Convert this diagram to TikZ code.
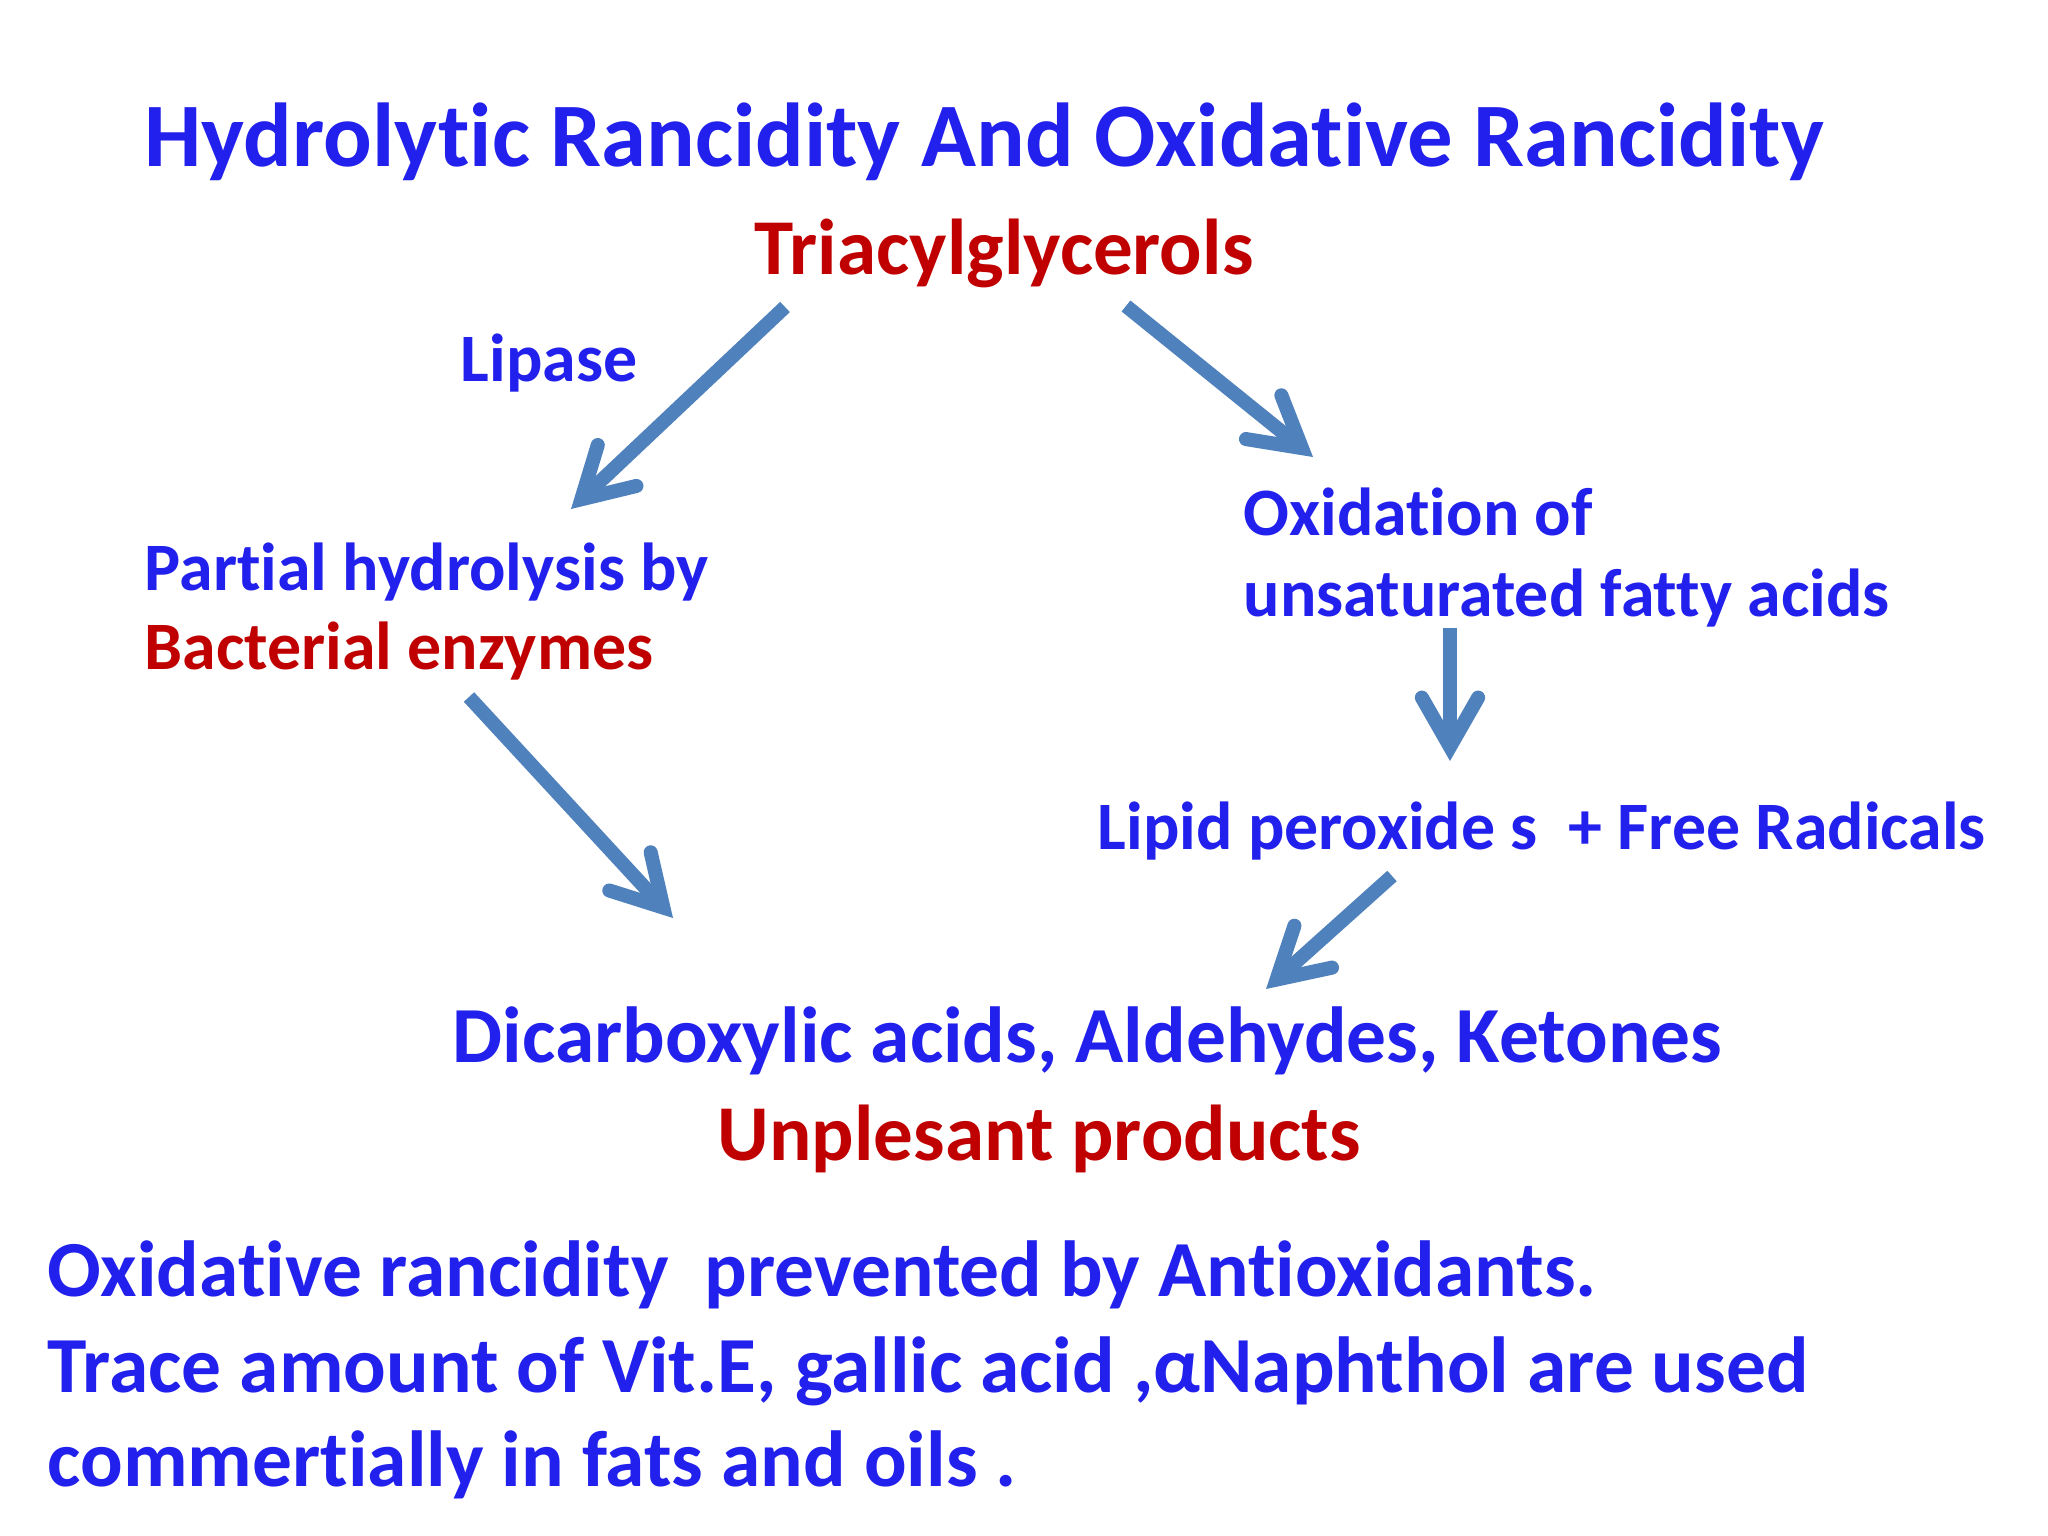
\documentclass[tikz,border=0pt]{standalone}
\usepackage{fontspec}
\setmainfont{Carlito}[Ligatures=NoCommon]
\usetikzlibrary{arrows.meta}
\definecolor{tblue}{RGB}{34,32,236}
\definecolor{tred}{RGB}{192,0,0}
\definecolor{tarrow}{RGB}{79,129,189}
\tikzset{
  txt/.style={inner sep=0pt, anchor=base west, font=\bfseries},
  bluetxt/.style={txt, text=tblue},
  redtxt/.style={txt, text=tred},
  flow/.style={draw=tarrow, line width=4pt, line cap=butt,
    -{Straight Barb[length=14pt,width=16pt,line join=miter,line cap=round]}}
}
\newcommand{\fs}[1]{\fontsize{#1}{#1}\selectfont}
\begin{document}
\begin{tikzpicture}[x={(0.01cm,0)}, y={(0,-0.01cm)}]
\useasboundingbox[fill=white] (0,0) rectangle (2048,1536);
\node[bluetxt, font=\bfseries\fs{25.8pt}] (title) at (144,166) {Hydrolytic Rancidity And Oxidative Rancidity};
\node[redtxt, font=\bfseries\fs{22.5pt}] (tag) at (754,274) {Triacylglycerols};
\node[bluetxt, font=\bfseries\fs{19.3pt}] (lipase) at (460,381) {Lipase};
\node[bluetxt, font=\bfseries\fs{19.3pt}] (partial) at (144,590) {Partial hydrolysis by};
\node[redtxt, font=\bfseries\fs{19.3pt}] (bact) at (144,669) {Bacterial enzymes};
\node[bluetxt, font=\bfseries\fs{19.3pt}] (oxid) at (1243,535) {Oxidation of};
\node[bluetxt, font=\bfseries\fs{19.3pt}] (unsat) at (1243,616) {unsaturated fatty acids};
\node[bluetxt, font=\bfseries\fs{19.3pt}] (lipid) at (1097,849) {Lipid peroxide s\ \ + Free Radicals};
\node[bluetxt, font=\bfseries\fs{22.6pt}] (dicarb) at (452,1062) {Dicarboxylic acids, Aldehydes, Ketones};
\node[redtxt, font=\bfseries\fs{22.5pt}] (unpl) at (717,1160) {Unplesant products};
\node[bluetxt, font=\bfseries\fs{22.6pt}] (l1) at (47,1296) {Oxidative rancidity\ \ prevented by Antioxidants.};
\node[bluetxt, font=\bfseries\fs{22.6pt}] (l2) at (47,1392) {Trace amount of Vit.E, gallic acid ,αNaphthol are used};
\node[bluetxt, font=\bfseries\fs{22.6pt}] (l3) at (47,1486) {commertially in fats and oils .};
\coordinate (a1s) at (785,307); \coordinate (a1e) at (571,509);
\coordinate (a2s) at (1126,306); \coordinate (a2e) at (1313,457);
\coordinate (a3s) at (1450,628); \coordinate (a3e) at (1450,761);
\coordinate (a4s) at (469,697); \coordinate (a4e) at (673,918);
\coordinate (a5s) at (1392,876); \coordinate (a5e) at (1266,989);
\draw[flow] (a1s) -- (a1e);
\draw[flow] (a2s) -- (a2e);
\draw[flow] (a3s) -- (a3e);
\draw[flow] (a4s) -- (a4e);
\draw[flow] (a5s) -- (a5e);
\end{tikzpicture}
\end{document}
